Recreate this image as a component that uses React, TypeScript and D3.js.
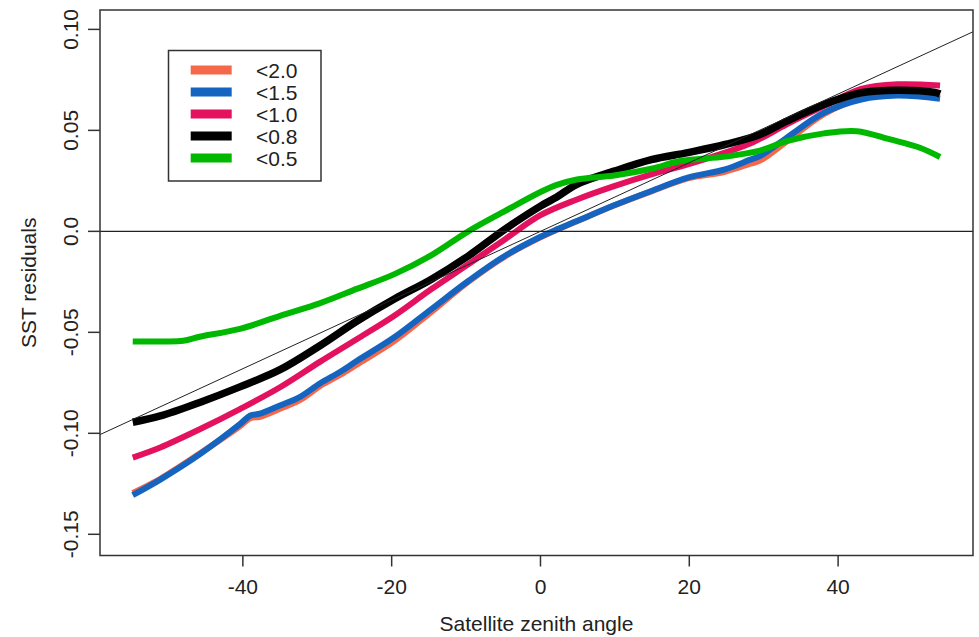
import React from "react";
import * as d3 from "d3";

const W = 979;
const H = 637;

const xTicks = [-40, -20, 0, 20, 40];
const yTicks = [0.1, 0.05, 0.0, -0.05, -0.1, -0.15];
const yTickLabels = ["0.10", "0.05", "0.0", "-0.05", "-0.10", "-0.15"];

const legendLabels = ["<2.0", "<1.5", "<1.0", "<0.8", "<0.5"];
const colors = ["#F5694A", "#1565C0", "#E3115E", "#000000", "#00B800"];

const angleOrange = [-54.8, -51.1, -45.8, -40.4, -39.0, -37.7, -35.0, -32.3, -29.6, -26.9, -24.7, -19.7, -14.7, -9.7, -4.8, 0, 4.9, 9.9, 14.9, 19.8, 24.8, 28.2, 29.5, 33.1, 38.1, 43.1, 48.0, 53.7];
const valOrange = [-0.1295, -0.1225, -0.110, -0.0965, -0.0925, -0.0918, -0.0878, -0.0835, -0.0765, -0.071, -0.066, -0.0545, -0.040, -0.025, -0.0125, -0.003, 0.005, 0.0128, 0.0198, 0.0262, 0.0295, 0.0335, 0.035, 0.0445, 0.058, 0.066, 0.068, 0.0665];

const angleBlue = [-54.8, -51.1, -45.8, -40.4, -39.0, -37.7, -35.0, -32.3, -29.6, -26.9, -24.7, -19.7, -14.7, -9.7, -4.8, 0, 2.2, 4.9, 9.9, 14.9, 19.8, 24.8, 28.2, 29.5, 33.1, 38.1, 43.1, 48.0, 53.7];
const valBlue = [-0.1306, -0.1229, -0.1104, -0.0955, -0.0912, -0.0903, -0.0862, -0.0819, -0.0752, -0.0695, -0.0642, -0.0526, -0.0386, -0.0246, -0.0122, -0.0027, 0.001, 0.0051, 0.0129, 0.020, 0.0266, 0.0307, 0.0355, 0.0373, 0.0464, 0.0587, 0.0653, 0.0673, 0.0657];

const anglePink = [-54.8, -51.1, -45.8, -40.4, -35.0, -29.6, -24.7, -19.7, -14.7, -9.7, -4.8, 0, 4.9, 9.9, 14.9, 19.8, 24.8, 28.5, 33.1, 38.1, 43.1, 48.0, 53.7];
const valPink = [-0.112, -0.107, -0.098, -0.088, -0.0772, -0.0645, -0.0534, -0.0419, -0.0287, -0.0163, -0.004, 0.008, 0.0158, 0.0224, 0.0282, 0.0332, 0.039, 0.044, 0.053, 0.062, 0.0705, 0.0728, 0.0722];

const angleBlack = [-54.8, -51.1, -45.8, -40.4, -35.0, -29.6, -24.7, -19.7, -14.7, -9.7, -4.8, 0, 2.2, 4.9, 9.9, 14.9, 19.8, 24.8, 29.5, 33.1, 38.1, 43.1, 48.0, 53.0, 53.7];
const valBlack = [-0.0945, -0.0914, -0.0847, -0.077, -0.0685, -0.0565, -0.0445, -0.0336, -0.0238, -0.0122, 0.001, 0.0125, 0.017, 0.0233, 0.0298, 0.0355, 0.039, 0.043, 0.048, 0.0546, 0.0628, 0.0686, 0.0699, 0.0688, 0.068];

const angleGreen = [-54.8, -51.0, -48.0, -45.8, -40.4, -35.0, -29.6, -24.7, -19.7, -14.7, -9.7, -4.8, 0, 2.2, 4.9, 9.9, 14.9, 18.8, 24.8, 29.5, 33.1, 38.1, 42.5, 47.0, 50.9, 53.7];
const valGreen = [-0.0545, -0.0545, -0.0542, -0.0522, -0.0483, -0.0418, -0.0355, -0.0285, -0.0213, -0.0119, 0.0, 0.010, 0.0195, 0.023, 0.0257, 0.0277, 0.031, 0.0348, 0.037, 0.040, 0.0447, 0.0485, 0.0496, 0.0455, 0.0415, 0.0368];

const refSlope = 0.0017;
const refIntercept = 0.0;

const series = [
  { xs: angleOrange, ys: valOrange },
  { xs: angleBlue, ys: valBlue },
  { xs: anglePink, ys: valPink },
  { xs: angleBlack, ys: valBlack },
  { xs: angleGreen, ys: valGreen },
];

const margin = { left: 100, top: 10, right: 973, bottom: 555.5 };

export default function App() {
  const x = d3.scaleLinear().domain([-59.2, 58.13]).range([margin.left, margin.right]);
  const y = d3.scaleLinear().domain([-0.1605, 0.1096]).range([margin.bottom, margin.top]);

  const line = d3
    .line<[number, number]>()
    .x((d) => x(d[0]))
    .y((d) => y(d[1]))
    .curve(d3.curveCatmullRom.alpha(0.5));

  const font = "'Liberation Sans', Arial, sans-serif";
  const axisColor = "#333";
  const [xd0, xd1] = x.domain();

  return (
    <svg
      width={W}
      height={H}
      style={{ position: "absolute", left: 0, top: 0, background: "#fff" }}
      fontFamily={font}
    >
      <rect x={0} y={0} width={W} height={H} fill="#fff" />
      <defs>
        <clipPath id="plotclip">
          <rect x={margin.left} y={margin.top} width={margin.right - margin.left} height={margin.bottom - margin.top} />
        </clipPath>
      </defs>

      <g clipPath="url(#plotclip)">
        {series.map((s, i) => (
          <path
            key={i}
            d={line(s.xs.map((v, j) => [v, s.ys[j]] as [number, number])) || ""}
            fill="none"
            stroke={colors[i]}
            strokeWidth={i === 3 ? 7.5 : 6}
            strokeLinejoin="round"
            strokeLinecap="butt"
          />
        ))}
        <line
          x1={x(xd0)}
          y1={y(refIntercept + refSlope * xd0)}
          x2={x(xd1)}
          y2={y(refIntercept + refSlope * xd1)}
          stroke="#222"
          strokeWidth={1}
        />
        <line x1={margin.left} x2={margin.right} y1={y(0)} y2={y(0)} stroke="#222" strokeWidth={1.3} />
      </g>

      <rect
        x={margin.left}
        y={margin.top}
        width={margin.right - margin.left}
        height={margin.bottom - margin.top}
        fill="none"
        stroke={axisColor}
        strokeWidth={1.5}
      />

      {xTicks.map((t) => (
        <g key={t}>
          <line x1={x(t)} x2={x(t)} y1={margin.bottom} y2={margin.bottom + 11} stroke={axisColor} strokeWidth={1.5} />
          <text x={x(t)} y={594} textAnchor="middle" fontSize={21} fill="#222">
            {t}
          </text>
        </g>
      ))}

      {yTicks.map((t, i) => (
        <g key={t}>
          <line x1={margin.left - 12} x2={margin.left} y1={y(t)} y2={y(t)} stroke={axisColor} strokeWidth={1.5} />
          <text
            transform={`translate(78,${y(t)}) rotate(-90)`}
            textAnchor="middle"
            fontSize={21}
            fill="#222"
          >
            {yTickLabels[i]}
          </text>
        </g>
      ))}

      <text x={(margin.left + margin.right) / 2} y={631} textAnchor="middle" fontSize={21} fill="#222">
        Satellite zenith angle
      </text>
      <text
        transform={`translate(36,${(margin.top + margin.bottom) / 2}) rotate(-90)`}
        textAnchor="middle"
        fontSize={21}
        fill="#222"
      >
        SST residuals
      </text>

      <rect x={168.5} y={50.5} width={152.5} height={130.5} fill="#fff" stroke={axisColor} strokeWidth={1.5} />
      {legendLabels.map((lab, i) => {
        const ly = 70 + i * 22;
        return (
          <g key={lab}>
            <line x1={190.7} x2={231.7} y1={ly} y2={ly} stroke={colors[i]} strokeWidth={9} />
            <text x={256} y={ly + 7.5} fontSize={21} fill="#222">
              {lab}
            </text>
          </g>
        );
      })}
    </svg>
  );
}
